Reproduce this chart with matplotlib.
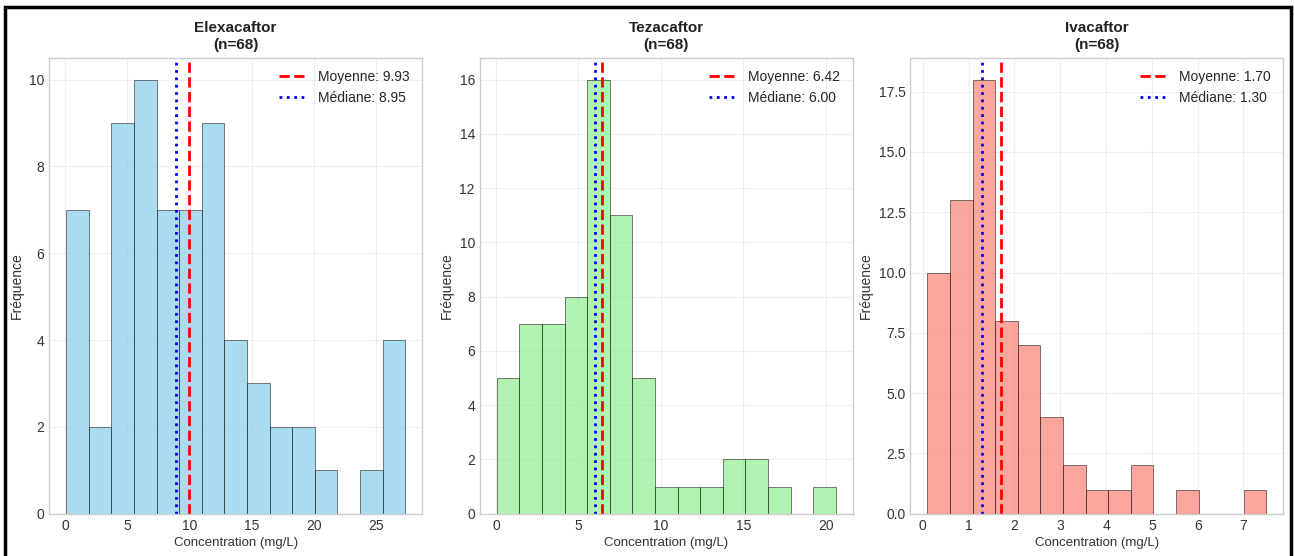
import matplotlib.pyplot as plt
import matplotlib.patches as mpatches
from matplotlib.ticker import MultipleLocator
import numpy as np

plt.style.use('seaborn-v0_8-whitegrid')
plt.rcParams['font.family'] = ['Liberation Sans', 'DejaVu Sans']

# data (15 bins per drug)
drugs = ['Elexacaftor', 'Tezacaftor', 'Ivacaftor']
n_patients = [68, 68, 68]
ranges = [(0.1, 27.3), (0.05, 20.6), (0.1, 7.5)]
counts_elx = [7, 2, 9, 10, 7, 7, 9, 4, 3, 2, 2, 1, 0, 1, 4]
counts_tez = [5, 7, 7, 8, 16, 11, 5, 1, 1, 1, 2, 2, 1, 0, 1]
counts_iva = [10, 13, 18, 8, 7, 4, 2, 1, 1, 2, 0, 1, 0, 0, 1]
means = [9.93, 6.42, 1.70]
medians = [8.95, 6.00, 1.30]
colors = ['skyblue', 'lightgreen', 'salmon']
x_steps = [5, 5, 1]

all_counts = [counts_elx, counts_tez, counts_iva]

fig, axes = plt.subplots(1, 3, figsize=(12.95, 5.56), dpi=100)
fig.subplots_adjust(left=0.038, right=0.991, top=0.896, bottom=0.076, wspace=0.155)

for ax, name, n, (lo, hi), cnt, mu, med, col, step in zip(axes, drugs, n_patients, ranges,
                                                          all_counts, means, medians, colors, x_steps):
    edges = np.linspace(lo, hi, len(cnt) + 1)
    centers = (edges[:-1] + edges[1:]) / 2
    ax.hist(centers, bins=edges, weights=cnt, color=col, alpha=0.7,
            edgecolor='black', linewidth=0.5)
    ax.axvline(mu, color='red', linestyle='--', linewidth=2, label=f'Moyenne: {mu:.2f}')
    ax.axvline(med, color='blue', linestyle=':', linewidth=2, label=f'Médiane: {med:.2f}')
    ax.set_title(f'{name}\n(n={n})', fontsize=11, fontweight='bold', linespacing=1.3, color='#222222')
    ax.set_xlabel('Concentration (mg/L)', fontsize=9.5, color='#333333', labelpad=3)
    ax.set_ylabel('Fréquence', fontsize=10, color='#333333')
    ax.xaxis.set_major_locator(MultipleLocator(step))
    ax.tick_params(labelsize=10, labelcolor='#333333')
    ax.grid(True, alpha=0.3)
    ax.legend(fontsize=10, loc='upper right')
    for s in ax.spines.values():
        s.set_color('#cccccc')

# black frame around the figure
fig.patches.append(mpatches.Rectangle((0.004, -0.02), 0.993, 1.007, transform=fig.transFigure,
                                      fill=False, edgecolor='black', linewidth=2.5))

plt.savefig('out.png', dpi=100)
